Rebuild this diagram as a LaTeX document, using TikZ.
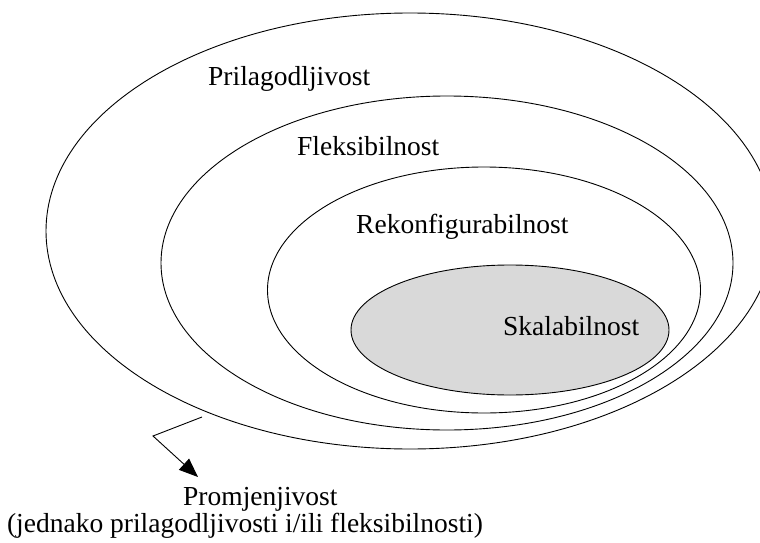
\documentclass[tikz,border=0pt]{standalone}
\usepackage{fontspec}
\setmainfont{Liberation Serif}
\usetikzlibrary{shapes.geometric,arrows.meta}
\definecolor{fillgray}{HTML}{D9D9D9}
\tikzset{
  ring/.style={draw=black,line width=0.9pt,ellipse,inner sep=0pt},
  lbl/.style={anchor=base west,inner sep=0pt,font=\fontsize{27.5}{32}\selectfont},
  pointer/.style={line width=0.9pt,-{Triangle[length=19pt,width=15pt]}}
}
\begin{document}
\begin{tikzpicture}[x=1pt,y=-1pt]
\useasboundingbox (0,0) rectangle (760,543);
\node[ring,minimum width=728pt,minimum height=436pt] (outer) at (410,231) {};
\node[ring,minimum width=572pt,minimum height=334pt] (flex) at (447,263) {};
\node[ring,minimum width=433pt,minimum height=246pt] (rekon) at (484,290) {};
\node[ring,fill=fillgray,minimum width=318pt,minimum height=130pt] (skal) at (510,330) {};
\node[lbl] (tprila) at (208,85) {Prilagodljivost};
\node[lbl] (tflex) at (297,155) {Fleksibilnost};
\node[lbl] (trekon) at (356,233) {Rekonfigurabilnost};
\node[lbl] (tskal) at (503,335) {Skalabilnost};
\node[lbl] (tprom) at (183,505) {Promjenjivost};
\node[lbl,anchor=base] (tjed) at (245,532) {(jednako prilagodljivosti i/ili fleksibilnosti)};
\coordinate (start) at (202,417);
\coordinate (bend) at (153,436);
\coordinate (tip) at (198,477);
\draw[pointer] (start) -- (bend) -- (tip);
\end{tikzpicture}
\end{document}
